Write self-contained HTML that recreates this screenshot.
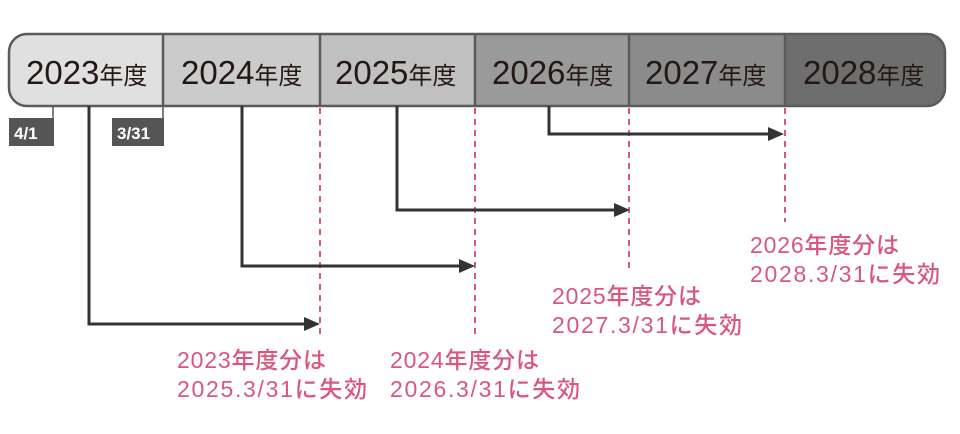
<!DOCTYPE html>
<html><head><meta charset="utf-8"><style>
html,body{margin:0;padding:0;background:#fff;width:960px;height:434px;overflow:hidden}
svg{display:block}
.h{font-family:"Liberation Sans","Noto Sans CJK JP",sans-serif;fill:#231815}
.p{font-family:"Liberation Sans","Noto Sans CJK JP",sans-serif;fill:#d9577f;font-size:23px;font-weight:500}
.t{font-family:"Liberation Sans",sans-serif;fill:#fff;font-size:17px;font-weight:bold}
</style></head><body>
<svg width="960" height="434" viewBox="0 0 960 434" xmlns="http://www.w3.org/2000/svg">
<defs><clipPath id="c"><rect x="9" y="34" width="936" height="72" rx="18"/></clipPath></defs>
<g clip-path="url(#c)">
<rect x="9" y="34" width="154" height="72" fill="#e0e0e0"/>
<rect x="163" y="34" width="157" height="72" fill="#cbcbcc"/>
<rect x="320" y="34" width="155" height="72" fill="#c0c0c0"/>
<rect x="475" y="34" width="154" height="72" fill="#9b9a9a"/>
<rect x="629" y="34" width="156" height="72" fill="#8b8b8b"/>
<rect x="785" y="34" width="160" height="72" fill="#6f6e6e"/>
</g>
<rect x="9" y="34" width="936" height="72" rx="18" fill="none" stroke="#5a5a5a" stroke-width="2.5"/>
<g stroke="#5a5a5a" stroke-width="2.5">
<line x1="163" y1="34" x2="163" y2="106"/><line x1="320" y1="34" x2="320" y2="106"/>
<line x1="475" y1="34" x2="475" y2="106"/><line x1="629" y1="34" x2="629" y2="106"/>
<line x1="785" y1="34" x2="785" y2="106"/>
</g>
<g class="h">
<text x="26" y="84"><tspan font-size="33">2023</tspan><tspan font-size="24">年度</tspan></text>
<text x="181" y="84"><tspan font-size="33">2024</tspan><tspan font-size="24">年度</tspan></text>
<text x="335" y="84"><tspan font-size="33">2025</tspan><tspan font-size="24">年度</tspan></text>
<text x="492" y="84"><tspan font-size="33">2026</tspan><tspan font-size="24">年度</tspan></text>
<text x="645" y="84"><tspan font-size="33">2027</tspan><tspan font-size="24">年度</tspan></text>
<text x="803" y="84"><tspan font-size="33">2028</tspan><tspan font-size="24">年度</tspan></text>
</g>
<line x1="53" y1="106" x2="53" y2="120" stroke="#555" stroke-width="1.5"/>
<rect x="9" y="118" width="45" height="28" fill="#555"/>
<text class="t" x="14" y="139">4/1</text>
<line x1="163" y1="106" x2="163" y2="120" stroke="#555" stroke-width="1.5"/>
<rect x="112" y="118" width="52" height="28" fill="#555"/>
<text class="t" x="117" y="139">3/31</text>
<g stroke="#d9577f" stroke-width="2" stroke-dasharray="6,5">
<line x1="320" y1="108" x2="320" y2="338"/>
<line x1="475" y1="108" x2="475" y2="338"/>
<line x1="629" y1="108" x2="629" y2="270"/>
<line x1="785" y1="108" x2="785" y2="222"/>
</g>
<g stroke="#333" stroke-width="3" fill="none">
<polyline points="89,106 89,324 306,324"/>
<polyline points="242,106 242,266 461,266"/>
<polyline points="397,106 397,210 616,210"/>
<polyline points="549,106 549,134 770,134"/>
</g>
<g fill="#333">
<polygon points="304,317 320,324 304,331"/>
<polygon points="459,259 475,266 459,273"/>
<polygon points="614,203 630,210 614,217"/>
<polygon points="768,127 784,134 768,141"/>
</g>
<g class="p">
<text x="177" y="368" textLength="149">2023年度分は</text>
<text x="177" y="397" textLength="190">2025.3/31に失効</text>
<text x="390" y="368" textLength="149">2024年度分は</text>
<text x="390" y="397" textLength="190">2026.3/31に失効</text>
<text x="552" y="304" textLength="149">2025年度分は</text>
<text x="552" y="333" textLength="190">2027.3/31に失効</text>
<text x="750" y="253" textLength="149">2026年度分は</text>
<text x="750" y="282" textLength="190">2028.3/31に失効</text>
</g>
</svg>
</body></html>
